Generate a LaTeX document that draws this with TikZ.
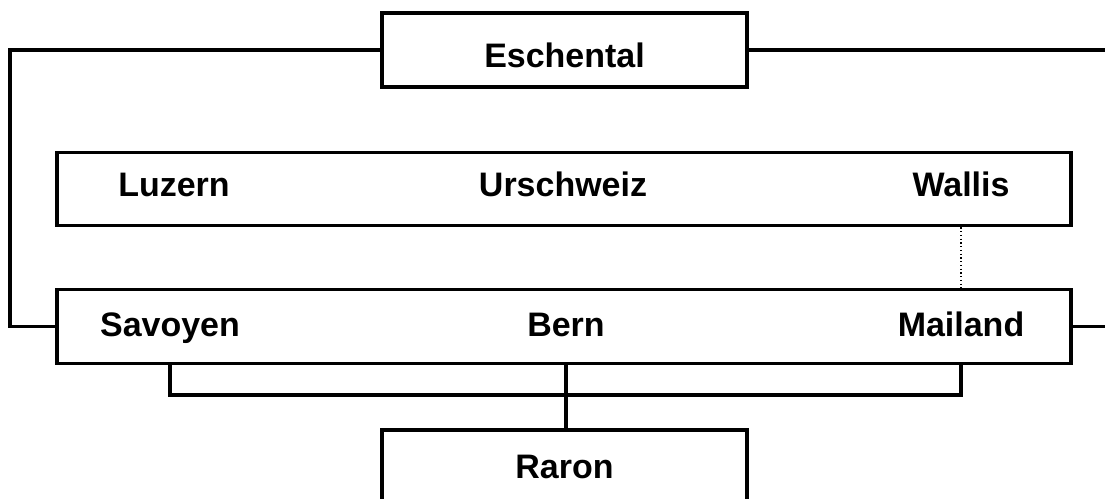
\documentclass[tikz,border=0pt]{standalone}
\usepackage{fontspec}
\setmainfont{Liberation Sans}
\usetikzlibrary{positioning,calc}

\begin{document}
\begin{tikzpicture}[x=0.3mm, y=-0.3mm, line width=2.8pt,
    box/.style={draw, minimum width=109.5mm, minimum height=22.2mm, font=\fontsize{29}{34}\selectfont\bfseries},
    row/.style={draw, minimum width=304.2mm, minimum height=22mm},
    place/.style={anchor=base, inner sep=0pt, font=\fontsize{29}{34}\selectfont\bfseries}]
    \useasboundingbox (0,0) rectangle (1105,499);

    \node[box, text height=10.8mm, text depth=0pt] (eschental) at (564.5,50) {Eschental};
    \node[row] (midrow) at (564,189) {};
    \node[row] (lowrow) at (564,326.5) {};
    \node[box] (raron) at (564.5,467) {Raron};

    \node[place] (luzern) at (174,197) {Luzern};
    \node[place] (urschweiz) at (563,197) {Urschweiz};
    \node[place] (wallis) at (961,197) {Wallis};
    \node[place] (savoyen) at (170,336) {Savoyen};
    \node[place] (bern) at (566,336) {Bern};
    \node[place] (mailand) at (961,336) {Mailand};

    \coordinate (leftside) at (10,0);
    \coordinate (rightside) at (1115,0);
    \coordinate (bracket) at (0,395);

    \draw (eschental.west) -| (leftside |- lowrow.west) -- (lowrow.west);
    \draw (eschental.east) -| (rightside |- lowrow.east) -- (lowrow.east);
    \draw[line width=1.2pt, dotted] (wallis |- midrow.south) -- (wallis |- lowrow.north);
    \draw (savoyen |- lowrow.south) -- (savoyen |- bracket) -- (mailand |- bracket) -- (mailand |- lowrow.south);
    \draw (raron.north -| bern) -- (bern |- lowrow.south);
\end{tikzpicture}
\end{document}
